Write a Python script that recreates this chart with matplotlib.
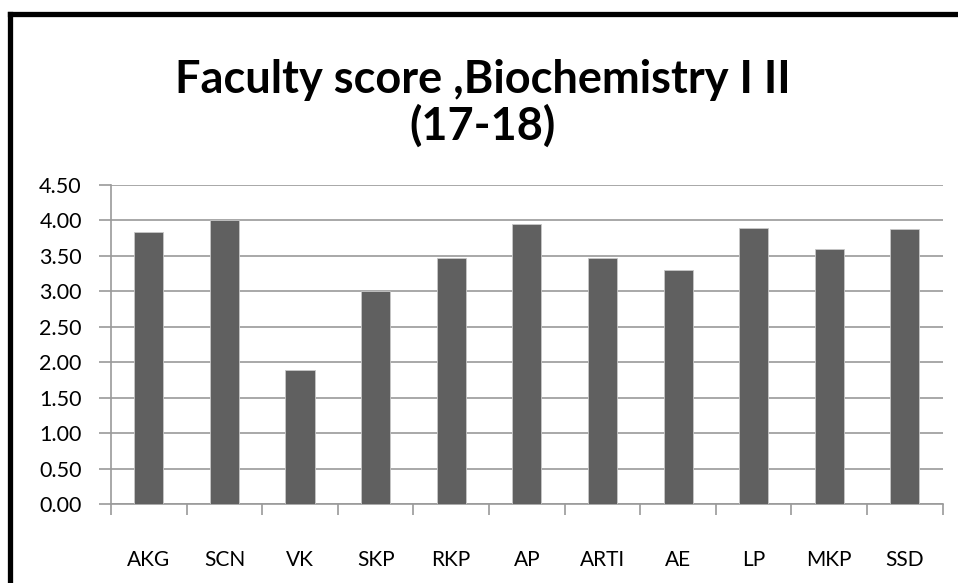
import matplotlib
matplotlib.use("Agg")
import matplotlib.pyplot as plt
from matplotlib.lines import Line2D

categories = ["AKG", "SCN", "VK", "SKP", "RKP", "AP", "ARTI", "AE", "LP", "MKP", "SSD"]
scores = [3.83, 4.00, 1.89, 3.00, 3.47, 3.95, 3.47, 3.30, 3.89, 3.60, 3.87]
yticks = [0.0, 0.5, 1.0, 1.5, 2.0, 2.5, 3.0, 3.5, 4.0, 4.5]
title_lines = ["Faculty score ,Biochemistry I II", "(17-18)"]

W, H = 958, 583
fig = plt.figure(figsize=(W / 100, H / 100), dpi=100)
fig.patch.set_facecolor("white")

def fx(px):
    return px / W

def fy(py):
    return 1 - py / H

ax = fig.add_axes([fx(111), fy(504), fx(942.7) - fx(111), fy(184.7) - fy(504)])
x = list(range(len(categories)))
ax.bar(x, scores, width=0.385, color="#606060", edgecolor="#c8c8c8", linewidth=0.6, zorder=3)
ax.set_xlim(-0.5, len(categories) - 0.5)
ax.set_ylim(0, 4.5)
ax.set_yticks(yticks)
ax.set_yticklabels([f"{v:.2f}" for v in yticks], fontsize=15.5, family=["Lato", "DejaVu Sans"], color="#000000")
ax.yaxis.grid(True, color="#9a9a9a", linewidth=1.2, zorder=0)
ax.set_axisbelow(True)
ax.set_xticks([i + 0.5 for i in range(-1, len(categories))], minor=False)
ax.set_xticklabels([])
ax.set_xticks(x, minor=True)
ax.set_xticklabels(categories, minor=True, fontsize=15, family=["Lato", "DejaVu Sans"])
ax.tick_params(axis="x", which="major", length=8, width=1.2, color="#9a9a9a", direction="out")
ax.tick_params(axis="x", which="minor", length=0, pad=33)
ax.tick_params(axis="y", length=9, width=1.2, color="#9a9a9a", pad=12)
for s in ["top", "right"]:
    ax.spines[s].set_visible(False)
for s in ["left", "bottom"]:
    ax.spines[s].set_color("#9a9a9a")
    ax.spines[s].set_linewidth(1.2)

fig.text(fx(483), fy(80), title_lines[0], ha="center", va="center", fontsize=32.5,
         fontweight="bold", family=["Lato", "DejaVu Sans"])
fig.text(fx(483), fy(126), title_lines[1], ha="center", va="center", fontsize=32.5,
         fontweight="bold", family=["Lato", "DejaVu Sans"])

fig.add_artist(Line2D([fx(9.5), fx(9.5)], [fy(13.5), -0.1], color="black", linewidth=3.8, transform=fig.transFigure, solid_capstyle="projecting"))
fig.add_artist(Line2D([fx(9.5), 1.1], [fy(13.5), fy(13.5)], color="black", linewidth=3.8, transform=fig.transFigure, solid_capstyle="projecting"))

fig.savefig("out.png", dpi=100)
